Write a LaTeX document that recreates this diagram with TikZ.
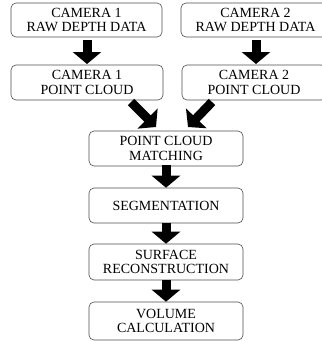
\documentclass[tikz,border=0pt]{standalone}
\usepackage{fontspec}
\setmainfont{Liberation Serif}
\usetikzlibrary{arrows.meta}
\tikzset{
  box/.style={draw=black!70, line width=0.6pt, rounded corners=5pt, minimum height=35pt, inner sep=0pt, align=center, font=\fontsize{14}{14.5}\selectfont},
  blk/.style={line width=9pt, -{Triangle[width=28pt,length=12pt]}, black}
}
\begin{document}
\begin{tikzpicture}[x=1pt,y=-1pt]
\useasboundingbox (0,0) rectangle (322,341);
\node[box, minimum width=151pt, minimum height=34pt] (c1raw) at (86.5,20) {CAMERA 1\\RAW DEPTH DATA};
\node[box, minimum width=149pt, minimum height=34pt] (c2raw) at (255.5,20) {CAMERA 2\\RAW DEPTH DATA};
\node[box, minimum width=152pt] (c1pc) at (87,82.5) {CAMERA 1\\POINT CLOUD};
\node[box, minimum width=144pt] (c2pc) at (254,82.5) {CAMERA 2\\POINT CLOUD};
\node[box, minimum width=154pt] (match) at (166,148.5) {POINT CLOUD\\MATCHING};
\node[box, minimum width=154pt] (seg) at (166,205.5) {SEGMENTATION};
\node[box, minimum width=154pt, minimum height=36pt] (surf) at (166,262) {SURFACE\\RECONSTRUCTION};
\node[box, minimum width=154pt, minimum height=38pt] (vol) at (166,321) {VOLUME\\CALCULATION};
\coordinate (a1s) at (87,40); \coordinate (a1e) at (87,64);
\coordinate (a2s) at (256,40); \coordinate (a2e) at (256,64);
\coordinate (d1s) at (131,102); \coordinate (d1e) at (156,127);
\coordinate (d2s) at (212,102); \coordinate (d2e) at (188,127);
\draw[blk] (a1s) -- (a1e);
\draw[blk] (a2s) -- (a2e);
\draw[blk] (d1s) -- (d1e);
\draw[blk] (d2s) -- (d2e);
\draw[blk] (match.south) ++(0,-1) -- (seg.north);
\draw[blk] (seg.south) -- (surf.north);
\draw[blk] (surf.south) -- (vol.north);
\end{tikzpicture}
\end{document}
